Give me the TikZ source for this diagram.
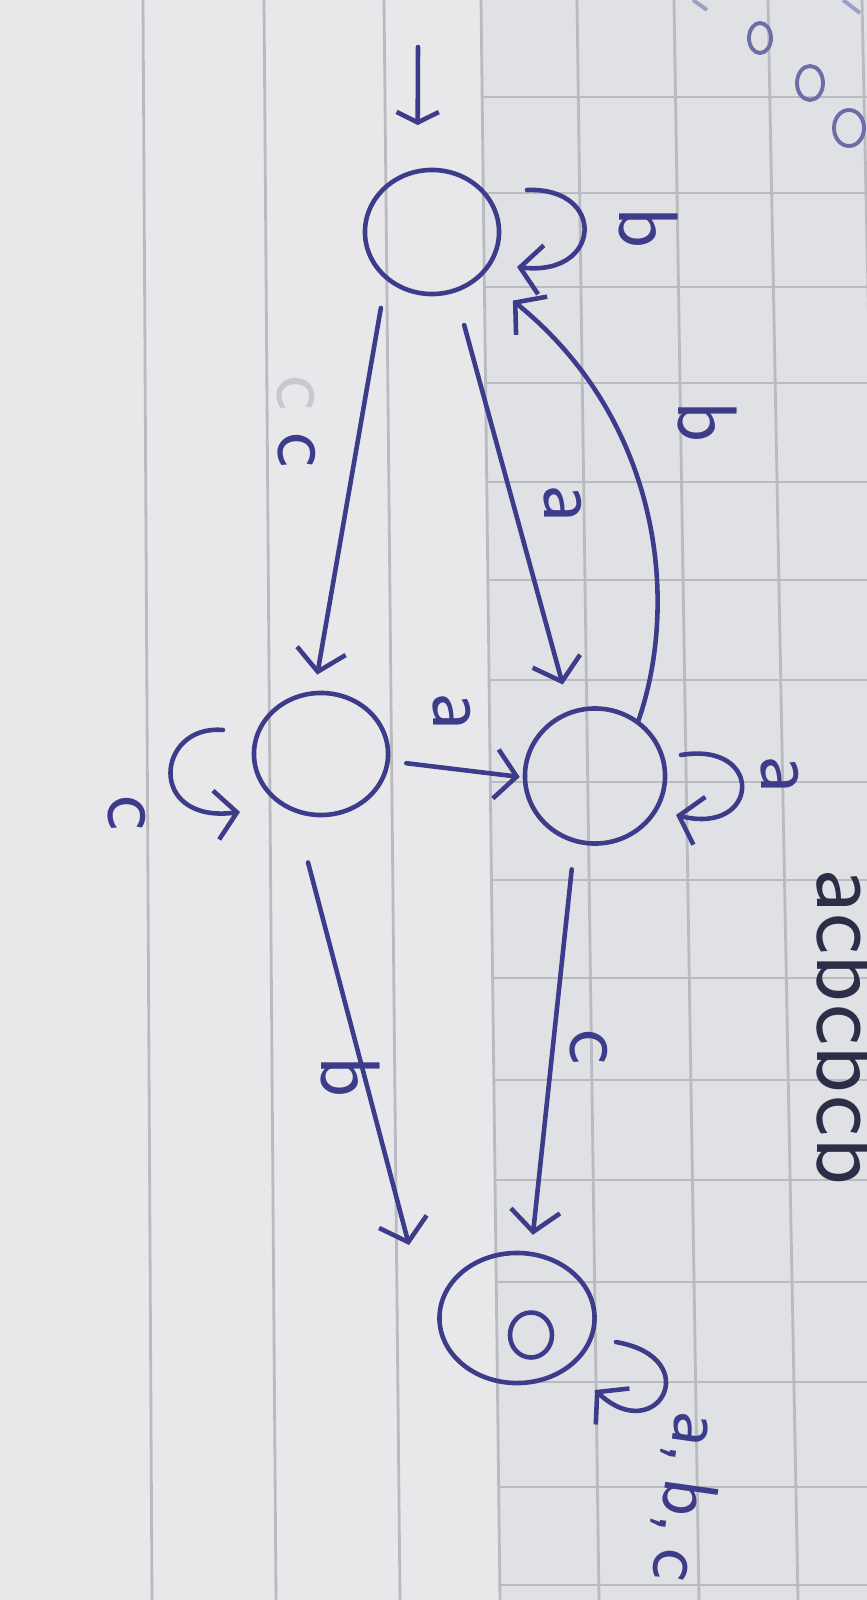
\documentclass[tikz,border=0pt]{standalone}
\usepackage{fontspec}
\usetikzlibrary{arrows.meta,shapes.geometric,calc}
\definecolor{ink}{RGB}{60,60,138}
\definecolor{inkdark}{RGB}{45,45,72}
\definecolor{inkfaint}{RGB}{200,200,208}
\definecolor{paper}{RGB}{224,225,229}
\definecolor{paperl}{RGB}{232,232,235}
\definecolor{rulec}{RGB}{186,187,192}
\tikzset{
  state/.style={draw=ink, line width=1.3pt, ellipse, inner sep=0pt},
  edge/.style={draw=ink, line width=1.3pt, line cap=round,
    -{Straight Barb[length=6pt,width=14pt,line width=1.3pt]}},
  lbl/.style={text=ink, font=\sffamily\fontsize{24}{26}\selectfont, rotate=-90, inner sep=0pt},
  rulev/.style={draw=rulec, line width=0.8pt},
  dotmark/.style={draw=ink!75, line width=1.1pt},
}
\begin{document}
\begin{tikzpicture}[x=0.01cm,y=-0.01cm]
\useasboundingbox (0,0) rectangle (867,1600);
\clip (0,0) rectangle (867,1600);
% paper
\fill[paper] (0,0) rectangle (867,1600);
\fill[paperl] (0,0) -- (481,0) -- (500,1600) -- (0,1600) -- cycle;
\foreach \a/\b in {143/152,264/276,384/400,481/500,577/599,674/699,768/798,862/895}
  \draw[rulev] (\a,0) -- (\b,1600);
\foreach \y in {97,193,287,383,482,580,680,782,880,978,1080,1180,1282,1382,1487,1585}
  \draw[rulev] ({481+0.011875*\y},\y) -- (867,\y);

% states
\node[state, minimum width=1.34cm, minimum height=1.24cm] (q0) at (432,232) {};
\node[state, minimum width=1.40cm, minimum height=1.35cm] (q1) at (595,776) {};
\node[state, minimum width=1.34cm, minimum height=1.22cm] (q2) at (321,754) {};
\node[state, minimum width=1.55cm, minimum height=1.30cm] (q3) at (517,1318) {};
\node[state, minimum width=0.42cm, minimum height=0.45cm] (q3in) at (531,1335) {};

% initial arrow
\coordinate (init) at (418,47);
\draw[edge, -{Straight Barb[length=3pt,width=12pt,line width=1.3pt]}, shorten >=0.44cm] (init) -- (q0.103);

% transitions
\draw[edge, shorten <=0.285cm, shorten >=0.166cm] (q0.-134.5) -- (q2.96.5);
\draw[edge, shorten <=0.337cm, shorten >=0.27cm] (q0.-69.3) -- (q1.111.5);
\draw[edge, shorten <=0.166cm, shorten >=0.03cm] (q2.-6) -- (q1.181.1);
\draw[edge, shorten <=0.265cm, shorten >=0.17cm] (q1.-107.3) -- (q3.78.4);
\coordinate (bEnd) at (409,1245);
\draw[edge, shorten <=0.515cm] (q2.-114.9) -- (bEnd);
\draw[edge, shorten >=0.39cm] (q1.52) .. controls (680,600) and (660,420) .. (q0.-41);

% loops
\draw[edge] ($(q0)+(95,-42)$) .. controls ($(q0)+(175,-45)$) and ($(q0)+(170,45)$) .. ($(q0)+(85,35)$);
\draw[edge] ($(q1)+(86,-21)$) .. controls ($(q1)+(170,-35)$) and ($(q1)+(165,60)$) .. ($(q1)+(81,39)$);
\draw[edge] ($(q2)+(-98,-24)$) .. controls ($(q2)+(-165,-30)$) and ($(q2)+(-175,70)$) .. ($(q2)+(-81,58)$);
\draw[edge] ($(q3)+(99,24)$) .. controls ($(q3)+(190,40)$) and ($(q3)+(140,130)$) .. ($(q3)+(78,72)$);

% labels
\node[lbl] (lb0) at (648,228) {b};
\node[lbl, text=inkfaint] (lghost) at (296,393) {c};
\node[lbl] (lc0) at (297,450) {c};
\node[lbl] (la1) at (563,504) {a};
\node[lbl] (lbb) at (707,422) {b};
\node[lbl] (la2) at (452,712) {a};
\node[lbl] (la3) at (780,775) {a};
\node[lbl] (lc2) at (127,813) {c};
\node[lbl] (lb2) at (350,1077) {b};
\node[lbl] (lc3) at (589,1047) {c};
\node[lbl, rotate=-8, font=\sffamily\fontsize{22}{24}\selectfont] (labc) at (686,1497) {a,\,b,\,c};

% other writing on the page
\node[text=inkdark, font=\sffamily\fontsize{28}{30}\selectfont, rotate=-90, anchor=base west, inner sep=0pt] (side) at (817,868) {acbcbcb};
\draw[dotmark] (760,38) ellipse [x radius=0.11cm, y radius=0.15cm];
\draw[dotmark] (810,83) ellipse [x radius=0.13cm, y radius=0.17cm];
\draw[dotmark] (849,128) ellipse [x radius=0.15cm, y radius=0.18cm];
\draw[dotmark, ink!50] (693,0) -- (707,10);
\draw[dotmark, ink!50] (843,0) -- (860,13);
\end{tikzpicture}
\end{document}
